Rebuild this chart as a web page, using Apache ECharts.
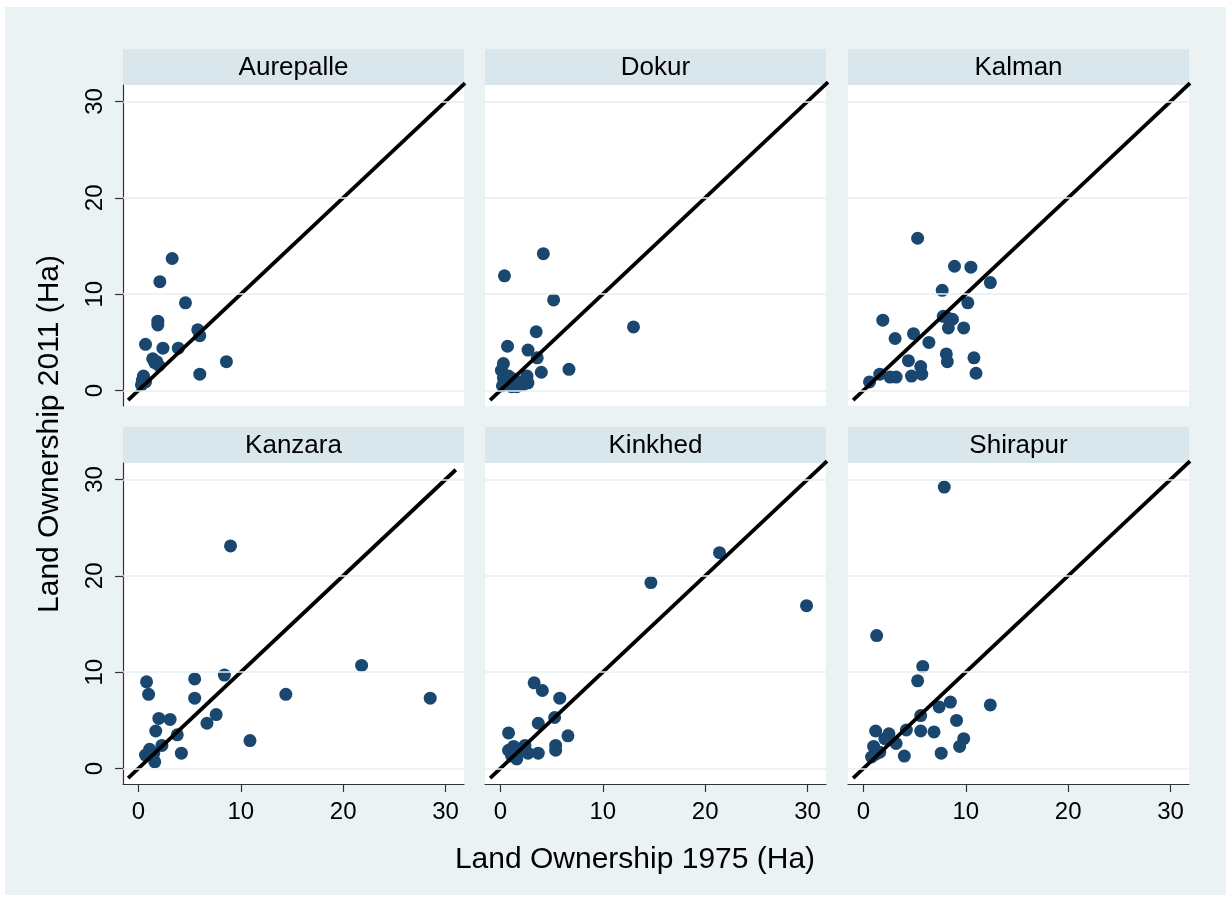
<!DOCTYPE html>
<html><head><meta charset="utf-8">
<script src="https://cdn.jsdelivr.net/npm/echarts@6/dist/echarts.min.js"></script>
<style>
html,body{margin:0;padding:0;background:#fff}
#bg{position:absolute;left:5px;top:7px;width:1221px;height:888px;background:#eaf2f3}
#c{position:absolute;left:0;top:0;width:1232px;height:900px}
</style>
</head><body><div id="bg"></div><div id="c"></div>
<script>
// ---- data ----
const villages = ['Aurepalle', 'Dokur', 'Kalman', 'Kanzara', 'Kinkhed', 'Shirapur'];
const aurepalle = [[3.3,13.7],[2.1,11.3],[4.6,9.1],[1.9,7.2],[1.9,6.8],[5.8,6.3],[6.0,5.7],[0.7,4.8],[2.4,4.4],[3.9,4.4],[1.4,3.3],[1.8,3.0],[2.0,2.6],[1.6,2.9],[8.6,3.0],[6.0,1.7],[0.5,1.5],[0.3,0.6],[0.7,0.9],[0.4,1.1]];
const dokur = [[4.2,14.2],[0.4,11.9],[5.2,9.4],[3.5,6.1],[0.7,4.6],[2.7,4.2],[3.6,3.4],[0.3,2.8],[6.7,2.2],[4.0,1.9],[13.0,6.6],[0.1,2.1],[0.3,1.3],[0.6,0.8],[1.1,0.4],[1.6,0.4],[1.9,0.9],[2.6,1.5],[2.7,0.8],[0.8,1.5],[1.3,1.2],[2.2,0.6],[0.2,0.5]];
const kalman = [[5.3,15.8],[8.9,12.9],[10.5,12.8],[12.4,11.2],[7.7,10.4],[10.2,9.1],[1.9,7.3],[7.8,7.7],[8.3,7.5],[8.7,7.4],[8.3,6.5],[9.8,6.5],[4.9,5.9],[3.1,5.4],[6.4,5.0],[8.1,3.8],[8.2,3.0],[10.8,3.4],[4.4,3.1],[5.6,2.5],[5.7,1.7],[11.0,1.8],[0.6,0.9],[1.6,1.7],[2.6,1.4],[3.2,1.4],[4.7,1.5]];
const kanzara = [[9.0,23.1],[8.4,9.7],[0.8,9.0],[5.5,9.3],[1.0,7.7],[5.5,7.3],[14.4,7.7],[2.0,5.2],[3.1,5.1],[7.6,5.6],[6.7,4.7],[1.7,3.9],[3.8,3.5],[10.9,2.9],[2.3,2.4],[4.2,1.6],[1.1,2.0],[0.7,1.4],[1.5,1.6],[1.6,0.7],[21.8,10.7],[28.5,7.3]];
const kinkhed = [[3.3,8.9],[4.1,8.1],[5.8,7.3],[5.3,5.3],[3.7,4.7],[0.8,3.7],[6.6,3.4],[5.4,2.4],[5.4,1.9],[3.7,1.6],[0.8,1.9],[1.3,2.3],[1.6,1.0],[2.1,1.9],[2.4,2.4],[2.7,1.6],[1.1,1.3],[14.7,19.3],[21.4,22.4],[29.9,16.9]];
const shirapur = [[7.9,29.2],[1.3,13.8],[5.8,10.6],[5.3,9.1],[12.4,6.6],[8.5,6.9],[7.4,6.4],[5.6,5.5],[9.1,5.0],[1.2,3.9],[2.5,3.6],[4.2,4.0],[5.6,3.9],[6.9,3.8],[2.1,3.1],[3.2,2.6],[1.0,2.3],[9.8,3.1],[9.4,2.3],[1.6,1.7],[0.8,1.2],[4.0,1.3],[7.6,1.6],[1.2,1.5]];
const xTicks = [0, 10, 20, 30];
const yTicks = [0, 10, 20, 30];
const diagonalStart = [-1, -1, -1, -1, -1, -1];
const diagonalEnd = [31.9, 32, 31.9, 31, 31.9, 31.9];
const xTitle = 'Land Ownership 1975 (Ha)';
const yTitle = 'Land Ownership 2011 (Ha)';

// ---- layout ----
const panelData = [aurepalle, dokur, kalman, kanzara, kinkhed, shirapur];
const colLeft = [123, 485, 848];
const colW = 341;
const rowTop = [85, 463];
const plotH = 321;
const stripH = 36;
const FONT = '"Liberation Sans", Arial, sans-serif';

const grids = [], xAxes = [], yAxes = [], series = [], graphics = [];
villages.forEach((name, i) => {
  const r = Math.floor(i / 3), c = i % 3;
  grids.push({left: colLeft[c], top: rowTop[r], width: colW, height: plotH,
    show: true, backgroundColor: '#ffffff', borderWidth: 0, containLabel: false});
  xAxes.push({type: 'value', gridIndex: i, min: -1.5, max: 31.8,
    axisLine: {show: r === 1, onZero: false, lineStyle: {color: '#333', width: 1.2}},
    axisTick: {show: r === 1, customValues: xTicks, length: 8, lineStyle: {color: '#333', width: 1.2}},
    axisLabel: {show: r === 1, customValues: xTicks, fontSize: 24, color: '#000', margin: 16, fontFamily: FONT},
    splitLine: {show: false}});
  yAxes.push({type: 'value', gridIndex: i, min: -1.6, max: 31.7,
    axisLine: {show: c === 0, onZero: false, lineStyle: {color: '#333', width: 1.2}},
    axisTick: {show: c === 0, customValues: yTicks, length: 8, lineStyle: {color: '#333', width: 1.2}},
    axisLabel: {show: c === 0, customValues: yTicks, rotate: 90, fontSize: 24, color: '#000', margin: 16, fontFamily: FONT},
    splitLine: {show: false}});
  // gridlines
  series.push({type: 'scatter', xAxisIndex: i, yAxisIndex: i, data: [], z: 1, silent: true,
    markLine: {silent: true, symbol: ['none', 'none'], label: {show: false},
      lineStyle: {color: '#e6eff1', width: 1.6, type: 'solid'},
      data: yTicks.map(v => ({yAxis: v}))}});
  series.push({type: 'scatter', xAxisIndex: i, yAxisIndex: i, data: panelData[i], z: 3,
    symbol: 'circle', symbolSize: 13, itemStyle: {color: '#1a476f', opacity: 1}});
  series.push({type: 'line', xAxisIndex: i, yAxisIndex: i, z: 4, clip: false,
    data: [[diagonalStart[i], diagonalStart[i]], [diagonalEnd[i], diagonalEnd[i]]],
    symbol: 'none', lineStyle: {color: '#000', width: 3.8}});
  // strip
  graphics.push({type: 'rect', shape: {x: colLeft[c], y: rowTop[r] - stripH, width: colW, height: stripH},
    style: {fill: '#d9e6eb'}, silent: true});
  graphics.push({type: 'text', x: colLeft[c] + colW / 2, y: rowTop[r] - stripH / 2 + 1,
    style: {text: name, font: '26px ' + FONT, fill: '#000', align: 'center', verticalAlign: 'middle'}, silent: true});
});
graphics.push({type: 'text', x: 635, y: 860,
  style: {text: xTitle, font: '30px ' + FONT, fill: '#000', align: 'center', verticalAlign: 'middle'}, silent: true});
graphics.push({type: 'text', x: 50, y: 434, rotation: Math.PI / 2,
  style: {text: yTitle, font: '30px ' + FONT, fill: '#000', align: 'center', verticalAlign: 'middle'}, silent: true});

const chart = echarts.init(document.getElementById('c'), null, {renderer: 'canvas'});
chart.setOption({
  backgroundColor: 'transparent',
  animation: false,
  grid: grids, xAxis: xAxes, yAxis: yAxes, series: series,
  graphic: {elements: graphics}
});
</script>
</body></html>
